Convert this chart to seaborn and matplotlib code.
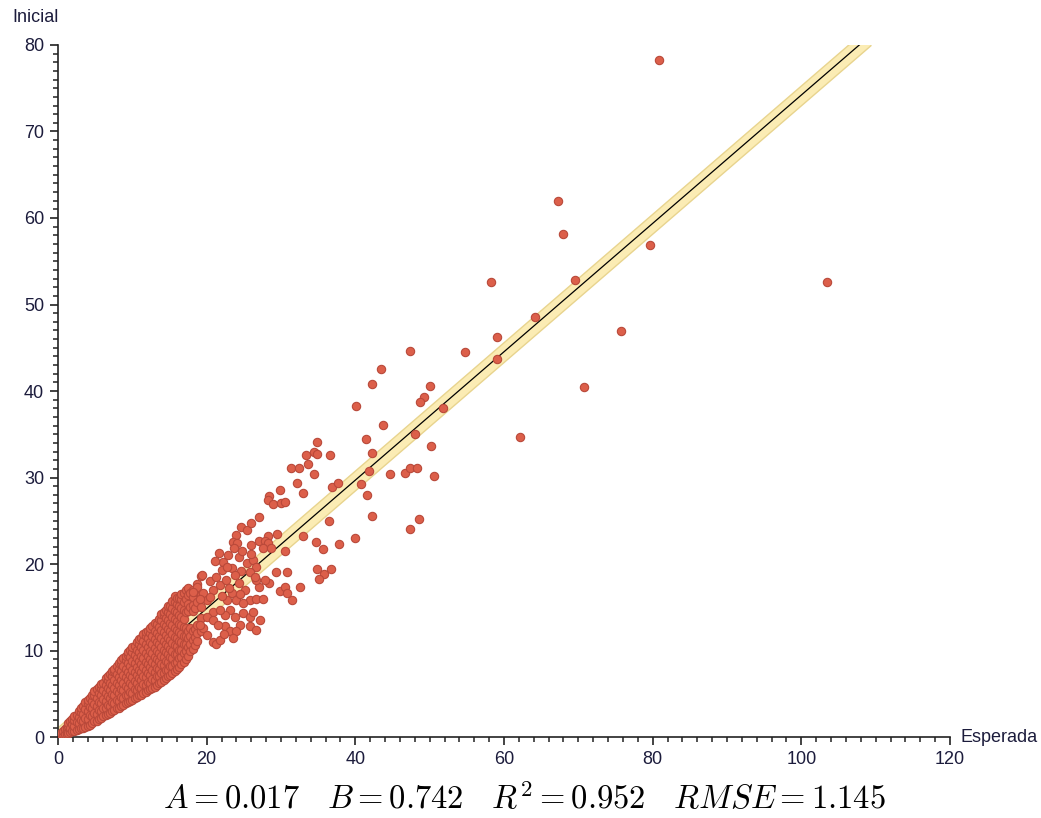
import numpy as np
import pandas as pd
import seaborn as sns
import matplotlib
matplotlib.use("Agg")
import matplotlib.pyplot as plt
from matplotlib.ticker import MultipleLocator

# Fit statistics
A = 0.017
B = 0.742
R2 = 0.952
RMSE = 1.145

# Dense low-value group (Esperada, Inicial)
core_x = [
    0.4, 0.4,
    0.65, 0.65,
    0.9, 0.9,
    1.15, 1.15, 1.15,
    1.4, 1.4, 1.4,
    1.65, 1.65, 1.65,
    1.9, 1.9, 1.9,
    2.2, 2.2, 2.2, 2.2,
    2.5, 2.5, 2.5,
    2.8, 2.8, 2.8, 2.8,
    3.1, 3.1, 3.1, 3.1,
    3.4, 3.4, 3.4, 3.4,
    3.7, 3.7, 3.7, 3.7,
    4.0, 4.0, 4.0, 4.0, 4.0,
    4.3, 4.3, 4.3, 4.3,
    4.6, 4.6, 4.6, 4.6, 4.6,
    4.9, 4.9, 4.9, 4.9, 4.9,
    5.2, 5.2, 5.2, 5.2, 5.2,
    5.5, 5.5, 5.5, 5.5, 5.5,
    5.8, 5.8, 5.8, 5.8, 5.8, 5.8,
    6.1, 6.1, 6.1, 6.1, 6.1,
    6.4, 6.4, 6.4, 6.4, 6.4, 6.4,
    6.7, 6.7, 6.7, 6.7, 6.7, 6.7,
    7.0, 7.0, 7.0, 7.0, 7.0, 7.0,
    7.3, 7.3, 7.3, 7.3, 7.3, 7.3,
    7.6, 7.6, 7.6, 7.6, 7.6, 7.6, 7.6,
    7.9, 7.9, 7.9, 7.9, 7.9, 7.9,
    8.2, 8.2, 8.2, 8.2, 8.2, 8.2, 8.2,
    8.5, 8.5, 8.5, 8.5, 8.5, 8.5, 8.5,
    8.8, 8.8, 8.8, 8.8, 8.8, 8.8, 8.8,
    9.1, 9.1, 9.1, 9.1, 9.1, 9.1, 9.1,
    9.4, 9.4, 9.4, 9.4, 9.4, 9.4, 9.4, 9.4,
    9.7, 9.7, 9.7, 9.7, 9.7, 9.7, 9.7,
    10.0, 10.0, 10.0, 10.0, 10.0, 10.0, 10.0, 10.0,
    10.3, 10.3, 10.3, 10.3, 10.3, 10.3, 10.3,
    10.6, 10.6, 10.6, 10.6, 10.6, 10.6, 10.6, 10.6,
    10.9, 10.9, 10.9, 10.9, 10.9, 10.9, 10.9, 10.9,
    11.2, 11.2, 11.2, 11.2, 11.2, 11.2, 11.2, 11.2,
    11.5, 11.5, 11.5, 11.5, 11.5, 11.5, 11.5, 11.5,
    11.8, 11.8, 11.8, 11.8, 11.8, 11.8, 11.8, 11.8, 11.8,
    12.1, 12.1, 12.1, 12.1, 12.1, 12.1, 12.1, 12.1,
    12.4, 12.4, 12.4, 12.4, 12.4, 12.4, 12.4, 12.4, 12.4,
    12.7, 12.7, 12.7, 12.7, 12.7, 12.7, 12.7, 12.7,
    13.0, 13.0, 13.0, 13.0, 13.0, 13.0, 13.0, 13.0, 13.0,
    13.3, 13.3, 13.3, 13.3, 13.3, 13.3, 13.3, 13.3,
    13.6, 13.6, 13.6, 13.6, 13.6, 13.6, 13.6, 13.6, 13.6,
    13.9, 13.9, 13.9, 13.9, 13.9, 13.9, 13.9, 13.9, 13.9,
    14.2, 14.2, 14.2, 14.2, 14.2, 14.2, 14.2, 14.2, 14.2, 14.2,
    14.5, 14.5, 14.5, 14.5, 14.5, 14.5, 14.5, 14.5, 14.5,
    14.8, 14.8, 14.8, 14.8, 14.8, 14.8, 14.8, 14.8, 14.8, 14.8,
    15.1, 15.1, 15.1, 15.1, 15.1, 15.1, 15.1, 15.1, 15.1,
    15.4, 15.4, 15.4, 15.4, 15.4, 15.4, 15.4, 15.4, 15.4, 15.4,
    15.7, 15.7, 15.7, 15.7, 15.7, 15.7, 15.7, 15.7, 15.7, 15.7,
    16.0, 16.0, 16.0, 16.0, 16.0, 16.0, 16.0, 16.0, 16.0, 16.0,
    16.3, 16.3, 16.3, 16.3, 16.3, 16.3, 16.3, 16.3, 16.3,
    16.6, 16.6, 16.6, 16.6, 16.6, 16.6, 16.6, 16.6, 16.6, 16.6,
    16.9, 16.9, 16.9, 16.9, 16.9, 16.9, 16.9, 16.9, 16.9,
    17.2, 17.2, 17.2, 17.2, 17.2, 17.2, 17.2, 17.2,
    17.5, 17.5, 17.5, 17.5, 17.5, 17.5, 17.5, 17.5,
    17.8, 17.8, 17.8, 17.8, 17.8, 17.8,
    18.1, 18.1, 18.1, 18.1, 18.1, 18.1, 18.1,
    18.4, 18.4, 18.4, 18.4,
    18.7, 18.7, 18.7, 18.7, 18.7, 18.7,
    19.3, 19.3, 19.3, 19.3, 19.3,
]
core_y = [
    0.2, 0.5,
    0.35, 0.7,
    0.3, 0.9,
    0.4, 0.8, 1.2,
    0.5, 1.3, 1.6,
    0.6, 1.1, 1.8,
    0.7, 1.5, 2.1,
    0.7, 1.3, 2.0, 2.4,
    0.8, 1.7, 2.6,
    0.9, 1.6, 2.3, 3.0,
    1.0, 2.0, 2.9, 3.4,
    1.1, 1.9, 2.7, 3.6,
    1.2, 2.2, 3.2, 4.0,
    1.3, 2.1, 3.0, 3.9, 4.3,
    1.4, 2.5, 3.5, 4.5,
    1.6, 2.4, 3.3, 4.2, 4.9,
    1.8, 2.8, 3.8, 4.8, 5.3,
    1.9, 2.7, 3.6, 4.5, 5.5,
    2.1, 3.1, 4.1, 5.1, 5.8,
    2.2, 3.0, 3.9, 4.8, 5.7, 6.1,
    2.4, 3.4, 4.4, 5.4, 6.3,
    2.5, 3.3, 4.2, 5.1, 6.0, 6.8,
    2.7, 3.7, 4.7, 5.7, 6.6, 7.1,
    2.8, 3.6, 4.5, 5.4, 6.3, 7.3,
    3.0, 4.0, 5.0, 6.0, 7.0, 7.6,
    3.1, 3.9, 4.8, 5.7, 6.6, 7.6, 7.9,
    3.3, 4.3, 5.3, 6.3, 7.3, 8.2,
    3.4, 4.2, 5.1, 6.0, 6.9, 7.9, 8.5,
    3.6, 4.6, 5.6, 6.6, 7.6, 8.5, 8.9,
    3.7, 4.5, 5.4, 6.3, 7.2, 8.2, 9.1,
    3.9, 4.9, 5.9, 6.9, 7.9, 8.9, 9.4,
    4.0, 4.8, 5.7, 6.6, 7.5, 8.5, 9.5, 9.8,
    4.2, 5.2, 6.2, 7.2, 8.2, 9.2, 10.1,
    4.3, 5.1, 6.0, 6.9, 7.8, 8.8, 9.8, 10.4,
    4.5, 5.5, 6.5, 7.5, 8.5, 9.5, 10.5,
    4.6, 5.4, 6.3, 7.2, 8.1, 9.1, 10.1, 11.0,
    4.8, 5.8, 6.8, 7.8, 8.8, 9.8, 10.8, 11.3,
    4.9, 5.7, 6.6, 7.5, 8.4, 9.4, 10.4, 11.5,
    5.1, 6.1, 7.1, 8.1, 9.1, 10.1, 11.1, 11.9,
    5.2, 6.0, 6.9, 7.8, 8.7, 9.7, 10.7, 11.7, 12.1,
    5.4, 6.4, 7.4, 8.4, 9.4, 10.4, 11.4, 12.3,
    5.5, 6.3, 7.2, 8.1, 9.0, 10.0, 11.0, 12.0, 12.6,
    5.7, 6.7, 7.7, 8.7, 9.7, 10.7, 11.7, 12.8,
    5.8, 6.6, 7.5, 8.4, 9.3, 10.3, 11.3, 12.3, 13.2,
    6.0, 7.0, 8.0, 9.0, 10.0, 11.0, 12.0, 13.1,
    6.2, 7.0, 7.9, 8.8, 9.7, 10.7, 11.7, 12.7, 13.7,
    6.4, 7.4, 8.4, 9.4, 10.4, 11.4, 12.4, 13.5, 14.2,
    6.6, 7.4, 8.3, 9.2, 10.1, 11.1, 12.1, 13.1, 14.1, 14.5,
    6.8, 7.8, 8.8, 9.8, 10.8, 11.8, 12.8, 13.8, 14.7,
    7.0, 7.8, 8.7, 9.6, 10.5, 11.5, 12.5, 13.5, 14.5, 15.1,
    7.2, 8.2, 9.2, 10.2, 11.2, 12.2, 13.2, 14.2, 15.2,
    7.4, 8.2, 9.1, 10.0, 10.9, 11.9, 12.9, 13.9, 14.9, 15.7,
    7.6, 8.6, 9.6, 10.6, 11.6, 12.6, 13.6, 14.6, 15.6, 16.3,
    7.9, 8.7, 9.6, 10.5, 11.4, 12.4, 13.4, 14.4, 15.4, 16.1,
    8.1, 9.1, 10.1, 11.1, 12.1, 13.1, 14.1, 15.1, 16.1,
    8.4, 9.2, 10.1, 11.0, 11.9, 12.9, 13.9, 14.9, 15.9, 16.5,
    8.7, 9.7, 10.7, 11.7, 12.7, 13.7, 14.7, 15.6, 16.6,
    9.0, 9.9, 10.8, 11.7, 12.6, 14.4, 16.0, 17.0,
    9.4, 10.4, 11.4, 12.2, 14.6, 15.4, 16.4, 17.2,
    9.9, 10.8, 11.7, 12.6, 15.0, 16.6,
    10.2, 11.2, 12.2, 14.6, 15.3, 16.2, 17.0,
    10.6, 11.6, 12.5, 14.9,
    11.1, 12.0, 13.0, 15.6, 16.8, 17.7,
    12.2, 13.8, 15.0, 16.4, 18.6,
]

# Scattered mid-range group
spread_x = [
    24.6, 25.4, 29.5, 28.3, 24.0, 23.5, 24.1, 23.7, 26.0, 27.1, 27.8, 28.3,
    27.6, 28.7, 33.0, 34.7, 35.6, 37.8, 39.9, 30.6, 29.3, 30.8, 34.9, 36.7,
    35.8, 35.1, 32.6, 31.5, 29.8, 30.5, 30.8, 28.4, 27.1, 27.8, 26.7, 25.8,
    26.7, 27.6, 25.4, 26.3, 26.7, 25.8, 26.5, 24.6, 23.4, 23.8, 22.2, 21.1,
    22.0, 22.7, 19.4, 20.4, 21.3, 21.8, 20.9, 18.7, 18.2, 19.5, 20.0, 19.1,
    22.7, 23.4, 24.0, 24.9, 23.1, 22.5, 23.8, 24.9, 25.8, 26.3, 27.2, 20.9,
    21.8, 20.0, 20.9, 22.5, 23.1, 24.5, 25.8, 24.0, 20.9, 21.3, 21.8, 19.5,
    20.0, 19.1, 22.9, 24.4, 21.6, 23.0, 24.4, 22.0, 25.2, 20.5, 21.5, 22.3,
    23.6, 26.6, 24.5, 22.6, 24.8, 25.9,
    47.4, 43.4, 42.3, 50.0, 49.2, 48.7, 51.8, 40.1, 43.7, 48.0, 41.4, 50.2,
    34.8, 42.3, 34.5, 34.8, 33.4, 36.6, 33.6, 31.4, 32.4, 41.8, 34.5, 44.6,
    46.7, 47.4, 48.3, 50.6, 32.2, 36.9, 37.7, 40.8, 29.8, 33.0, 41.6, 28.4,
    28.3, 28.9, 30.0, 30.5, 42.3, 48.5, 47.4, 36.4, 27.0, 26.0,
]
spread_y = [
    24.3, 23.9, 23.5, 23.2, 23.4, 22.6, 22.4, 21.9, 22.2, 22.7, 22.7, 22.4,
    21.9, 21.9, 23.2, 22.6, 21.7, 22.3, 23.0, 21.5, 19.1, 19.1, 19.4, 19.4,
    18.9, 18.3, 17.3, 15.8, 16.9, 17.4, 16.7, 17.8, 17.3, 18.2, 18.2, 15.8,
    16.0, 15.9, 20.1, 20.5, 19.7, 19.1, 18.5, 19.2, 19.5, 18.7, 20.2, 20.4,
    19.3, 19.7, 18.7, 18.0, 18.5, 17.6, 17.0, 17.4, 16.8, 16.6, 15.8, 16.0,
    15.8, 16.6, 15.8, 15.5, 14.7, 14.1, 13.9, 14.3, 13.9, 14.5, 13.5, 14.5,
    14.7, 13.9, 13.5, 12.8, 12.2, 12.9, 12.8, 12.2, 11.0, 10.8, 11.2, 12.6,
    11.8, 12.9, 21.0, 20.8, 21.3, 17.2, 17.8, 16.3, 17.0, 16.2, 13.0, 11.9,
    11.4, 12.4, 16.5, 18.2, 21.5, 21.1,
    44.6, 42.6, 40.8, 40.6, 39.3, 38.7, 38.0, 38.3, 36.1, 35.0, 34.5, 33.6,
    34.1, 32.8, 33.0, 32.7, 32.6, 32.6, 31.6, 31.1, 31.1, 30.7, 30.4, 30.4,
    30.5, 31.1, 31.1, 30.2, 29.4, 28.9, 29.4, 29.2, 28.6, 28.2, 28.0, 27.9,
    27.4, 26.9, 27.1, 27.2, 25.6, 25.2, 24.0, 25.0, 25.4, 24.7,
]

# High-value group
high_x = [80.8, 67.2, 67.9, 79.7, 58.2, 69.6, 103.4, 64.2, 59.1, 75.8, 54.8,
          59.1, 70.7, 62.2]
high_y = [78.3, 62.0, 58.2, 56.9, 52.6, 52.8, 52.6, 48.6, 46.3, 46.9, 44.5,
          43.7, 40.5, 34.7]

x_ticks = [0, 20, 40, 60, 80, 100, 120]
y_ticks = [0, 10, 20, 30, 40, 50, 60, 70, 80]

points = pd.DataFrame({
    "Esperada": core_x + spread_x + high_x,
    "Inicial": core_y + spread_y + high_y,
})

line_x = np.linspace(0, (80 - A) / B + 1.5, 200)
fit = pd.DataFrame({"Esperada": line_x, "Inicial": A + B * line_x})

sns.set_style("white")
plt.rcParams["font.family"] = ["Liberation Sans", "DejaVu Sans"]
plt.rcParams["mathtext.fontset"] = "cm"

fig = plt.figure(figsize=(10.41, 8.18), dpi=100)
ax = fig.add_axes([0.0557, 0.099, 0.8569, 0.846])

# Error band around the fitted line
ax.fill_between(fit["Esperada"], fit["Inicial"] - RMSE, fit["Inicial"] + RMSE,
                color="#fbecb4", edgecolor="#e8d48e", linewidth=1.0, zorder=1)
sns.lineplot(data=fit, x="Esperada", y="Inicial", color="black", linewidth=0.9,
             ax=ax, zorder=2)
sns.scatterplot(data=points, x="Esperada", y="Inicial", s=36, color="#dc5f4a",
                edgecolor="#b9493a", linewidth=0.8, ax=ax, zorder=3)

ax.set_xlim(0, 120)
ax.set_ylim(0, 80)
ax.set_xticks(x_ticks)
ax.set_yticks(y_ticks)
ax.xaxis.set_minor_locator(MultipleLocator(2))
ax.yaxis.set_minor_locator(MultipleLocator(1))
ax.set_xlabel("")
ax.set_ylabel("")

for side in ("top", "right"):
    ax.spines[side].set_visible(False)
for side in ("left", "bottom"):
    ax.spines[side].set_color("#222222")
    ax.spines[side].set_linewidth(1.2)

label_color = "#1c1c3c"
ax.tick_params(which="major", direction="out", length=6, width=1.2,
               colors="#222222", labelcolor=label_color, labelsize=13, pad=4,
               left=True, bottom=True)
ax.tick_params(which="minor", direction="out", length=3.5, width=1.1,
               colors="#222222", left=True, bottom=True)

fig.text(12 / 1041, 1 - 18 / 818, "Inicial", ha="left", va="center",
         fontsize=13, color=label_color)
fig.text(961 / 1041, 1 - 737 / 818, "Esperada", ha="left", va="center",
         fontsize=13, color=label_color)

fig.text(0.504, 1 - 800 / 818,
         rf"$A = {A:.3f}\quad B = {B:.3f}\quad R^2 = {R2:.3f}\quad RMSE = {RMSE:.3f}$",
         ha="center", va="center", fontsize=23.5, color="black")

fig.savefig("out.png", dpi=100, facecolor="white")
